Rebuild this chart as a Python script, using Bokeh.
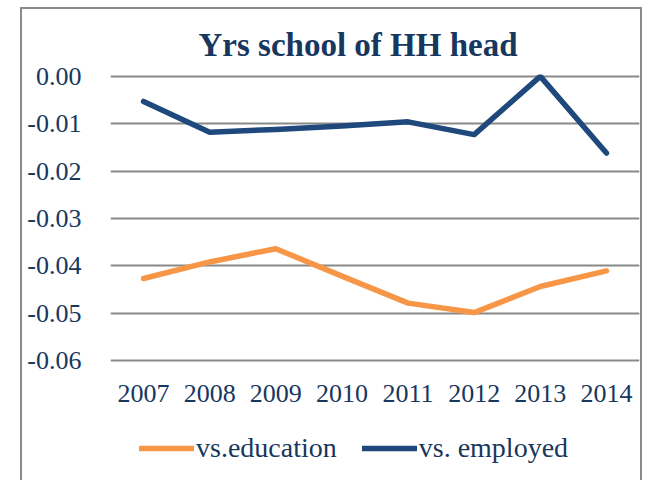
from bokeh.plotting import figure
from bokeh.models import Range1d, FactorRange, Title, Legend, LegendItem, FixedTicker, ColumnDataSource, CustomJSTickFormatter
from bokeh.embed import file_html
from bokeh.resources import INLINE

years = ["2007", "2008", "2009", "2010", "2011", "2012", "2013", "2014"]
vs_education = [-0.0427, -0.0392, -0.0364, -0.0422, -0.0479, -0.0499, -0.0444, -0.0411]
vs_employed = [-0.0053, -0.0118, -0.0112, -0.0105, -0.0096, -0.0123, 0.0000, -0.0162]
y_ticks = [0.0, -0.01, -0.02, -0.03, -0.04, -0.05, -0.06]

TEXT = "#17375E"
FONT = "Liberation Serif"

src = ColumnDataSource(dict(year=years, edu=vs_education, emp=vs_employed))

# frame spans the plot plus the band below it that holds the year labels and legend
p = figure(
    x_range=FactorRange(*years, range_padding=0),
    y_range=Range1d(-0.0858, 0.0004),
    width=622, height=473,
    output_backend="svg", toolbar_location=None,
    min_border_left=88, min_border_right=5, min_border_top=65, min_border_bottom=0,
)
p.styles = {
    "margin-left": "20px", "margin-top": "7px",
    "border-left": "2px solid #8a8a8a", "border-right": "2px solid #8a8a8a",
    "border-top": "2px solid #8a8a8a",
}
p.outline_line_color = None
p.background_fill_color = "white"
p.border_fill_color = "white"

r_edu = p.line("year", "edu", source=src, line_color="#F79646", line_width=5.5,
               line_join="round", line_cap="round")
r_emp = p.line("year", "emp", source=src, line_color="#1F497D", line_width=5.5,
               line_join="round", line_cap="round")

p.title = Title(text="Yrs school of HH head", align="left", offset=88, standoff=24,
                text_font=FONT, text_font_size="33px", text_font_style="bold",
                text_color=TEXT)

p.yaxis.ticker = FixedTicker(ticks=y_ticks)
p.yaxis.formatter = CustomJSTickFormatter(code="return tick.toFixed(2);")
p.xaxis.fixed_location = min(y_ticks)
for ax in (p.xaxis, p.yaxis):
    ax.axis_line_color = None
    ax.major_tick_line_color = None
    ax.minor_tick_line_color = None
    ax.major_tick_out = 0
    ax.major_tick_in = 0
    ax.minor_tick_out = 0
    ax.major_label_text_font = FONT
    ax.major_label_text_font_size = "26px"
    ax.major_label_text_color = TEXT
p.yaxis.major_label_standoff = 29
p.xaxis.major_label_standoff = 25

p.xgrid.grid_line_color = None
p.ygrid.grid_line_color = "#898989"
p.ygrid.grid_line_width = 2

legend = Legend(
    items=[LegendItem(label="vs.education", renderers=[r_edu]),
           LegendItem(label="vs. employed", renderers=[r_emp])],
    orientation="horizontal", location=(29, 18),
    glyph_width=55, glyph_height=20, label_standoff=2, spacing=25,
    padding=0, margin=0, border_line_color=None, background_fill_alpha=0,
    label_text_font=FONT, label_text_font_size="28px", label_text_color=TEXT,
)
p.add_layout(legend)

open("out.html", "w").write(file_html(p, INLINE))
